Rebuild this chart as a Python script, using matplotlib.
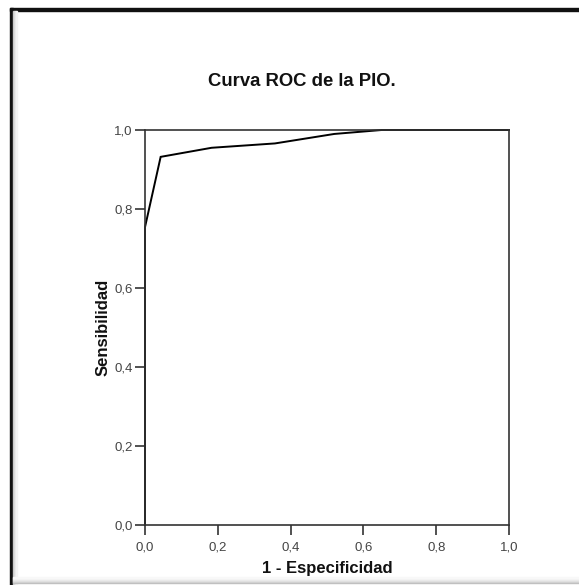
import matplotlib.pyplot as plt
from matplotlib.patches import Rectangle
import numpy as np

plt.rcParams['font.family'] = ['Liberation Sans', 'DejaVu Sans']

# ROC points
fpr = [0.0, 0.0, 0.043, 0.183, 0.357, 0.52, 0.65, 1.0]
tpr = [0.0, 0.754, 0.932, 0.955, 0.966, 0.99, 1.0, 1.0]
ticks = [0.0, 0.2, 0.4, 0.6, 0.8, 1.0]
tick_labels = ['0,0', '0,2', '0,4', '0,6', '0,8', '1,0']

W, H = 579, 585
fig = plt.figure(figsize=(W / 100, H / 100), dpi=100)

# outer frame with a little shading
fig.patches.append(Rectangle((10 / W, 0), 2.5 / W, 1 - 8 / H, transform=fig.transFigure,
                             color='#111111', zorder=0))
fig.patches.append(Rectangle((10 / W, 1 - 11 / H), 1 - 10 / W, 3 / H, transform=fig.transFigure,
                             color='#111111', zorder=0))
for i, c in enumerate(['#c8c8c8', '#dadada', '#e8e8e8', '#f3f3f3']):
    fig.patches.append(Rectangle(((12.5 + i) / W, 0), 1 / W, 1 - 11 / H, transform=fig.transFigure,
                                 color=c, zorder=0))
for i, c in enumerate(['#bdbdbd', '#cfcfcf', '#dedede', '#e9e9e9', '#f2f2f2', '#f8f8f8']):
    fig.patches.append(Rectangle((12.5 / W, (2 + i) / H), 1, 1 / H, transform=fig.transFigure,
                                 color=c, zorder=0))

ax = fig.add_axes([145 / W, 1 - 525 / H, 364 / W, 395 / H])
ax.plot(fpr, tpr, color='black', lw=1.4, solid_joinstyle='miter', clip_on=False)
ax.set_xlim(0, 1)
ax.set_ylim(0, 1)
ax.set_xticks(ticks)
ax.set_xticklabels(tick_labels)
ax.set_yticks(ticks)
ax.set_yticklabels(tick_labels)
for s in ax.spines.values():
    s.set_color('#333333')
    s.set_linewidth(1.2)
ax.tick_params(length=7, width=1.2, color='#333333', labelsize=9.5, labelcolor='#444444')
ax.tick_params(axis='x', pad=5)
ax.tick_params(axis='y', pad=2)

fig.text(302 / W, 1 - 82 / H, 'Curva ROC de la PIO.', ha='center', va='center',
         fontsize=13.3, fontweight='bold', color='#111111')
fig.text(327 / W, 1 - 568 / H, '1 - Especificidad', ha='center', va='center',
         fontsize=12, fontweight='bold', color='#111111')
fig.text(103 / W, 1 - 327 / H, 'Sensibilidad', ha='center', va='center', rotation=90,
         fontsize=12, fontweight='bold', color='#111111')

fig.savefig('out.png', dpi=100)
